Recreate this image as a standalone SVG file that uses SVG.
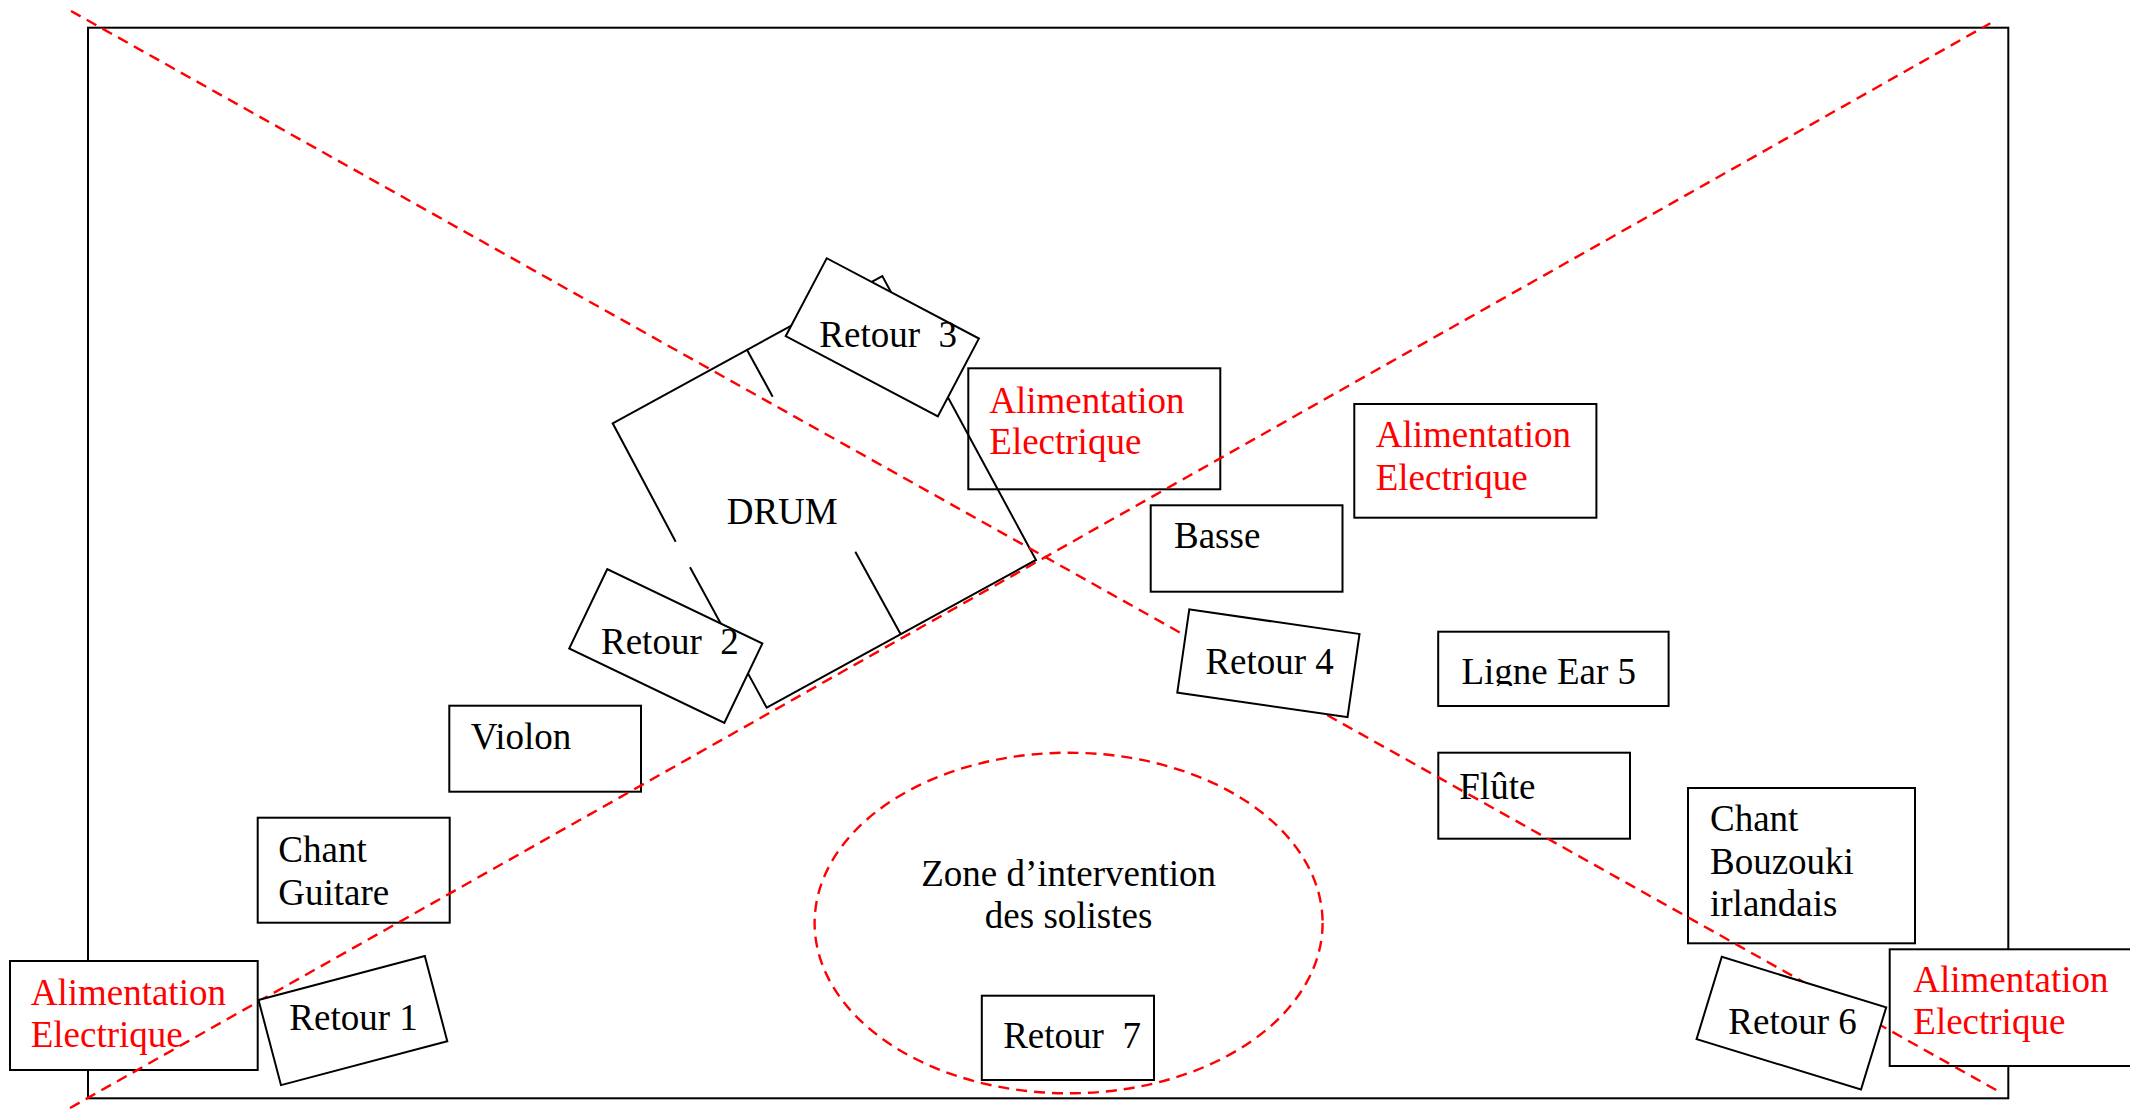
<svg xmlns="http://www.w3.org/2000/svg" width="2130" height="1109" viewBox="0 0 2130 1109">
<style>
.box{fill:#fff;stroke:#000;stroke-width:2}
.ln{fill:none;stroke:#000;stroke-width:2}
.red{fill:none;stroke:#ff0000;stroke-width:2.4;stroke-dasharray:11 7}
.t{font-family:"Liberation Serif","Times New Roman",serif;font-size:37px;fill:#000}
.r{font-family:"Liberation Serif","Times New Roman",serif;font-size:37px;fill:#ff0000}
</style>
<defs>
<clipPath id="clipEar"><rect x="1438" y="631" width="231" height="55"/></clipPath>
</defs>
<rect id="stage" x="88" y="27.7" width="1920.3" height="1070.6" fill="#fff" stroke="#000" stroke-width="2"/>

<g id="violon"><rect class="box" x="449.3" y="705.7" width="191.7" height="86"/><text class="t" x="470.7" y="749.3">Violon</text></g>
<g id="chant-guitare"><rect class="box" x="257.7" y="817.7" width="192" height="105"/><text class="t" x="278.3" y="861.7">Chant</text><text class="t" x="278.3" y="905">Guitare</text></g>
<g id="basse"><rect class="box" x="1150.7" y="505.3" width="191.8" height="86.4"/><text class="t" x="1174" y="548.3">Basse</text></g>
<g id="ligne-ear"><rect class="box" x="1438.2" y="631.7" width="230.4" height="74.3"/><text class="t" x="1461.4" y="684" clip-path="url(#clipEar)">Ligne Ear 5</text></g>
<g id="flute"><rect class="box" x="1438.3" y="752.7" width="191.7" height="86"/><text class="t" x="1459.3" y="799.3">Flûte</text></g>
<g id="chant-bouzouki"><rect class="box" x="1688" y="788" width="227" height="155.3"/><text class="t" x="1710" y="830.7">Chant</text><text class="t" x="1710" y="874">Bouzouki</text><text class="t" x="1710" y="916">irlandais</text></g>

<g id="alim-1"><rect class="box" x="10" y="961" width="247.7" height="109"/><text class="r" x="30.7" y="1005">Alimentation</text><text class="r" x="30.7" y="1046.7">Electrique</text></g>
<g id="alim-2"><rect class="box" x="968.3" y="368.3" width="252" height="121"/><text class="r" x="989.3" y="412.7">Alimentation</text><text class="r" x="989.3" y="454.3">Electrique</text></g>
<g id="alim-3"><rect class="box" x="1354.3" y="404" width="242.1" height="113.7"/><text class="r" x="1375.7" y="447.3">Alimentation</text><text class="r" x="1375.7" y="490">Electrique</text></g>
<g id="alim-4"><rect class="box" x="1889.7" y="949.3" width="250" height="116.7"/><text class="r" x="1913.3" y="991.7">Alimentation</text><text class="r" x="1913.3" y="1034.3">Electrique</text></g>

<g id="drum">
<path class="ln" d="M690,567.3 L766.7,707.7 L1036,560 L882.3,276 L612.7,423.3 L675.7,541.7"/>
<line class="ln" x1="746.7" y1="349.3" x2="772.7" y2="396.7"/>
<line class="ln" x1="855.3" y1="551.7" x2="900.7" y2="634.3"/>
<text class="t" x="726.7" y="524">DRUM</text>
</g>

<g id="zone-solistes">
<ellipse class="red" cx="1068.6" cy="923" rx="254" ry="170.3"/>
<text class="t" x="1068.6" y="886" text-anchor="middle">Zone d’intervention</text>
<text class="t" x="1068.6" y="928.3" text-anchor="middle">des solistes</text>
</g>

<g id="connectors">
<line class="red" x1="71" y1="11" x2="2002" y2="1093.3"/>
<line class="red" x1="70" y1="1108" x2="1990.3" y2="23.3"/>
</g>

<g id="retour-1"><rect class="box" x="-86" y="-44" width="172" height="88" transform="translate(352.9,1020.6) rotate(-14.8)"/><text class="t" x="289.3" y="1030">Retour 1</text></g>
<g id="retour-2"><rect class="box" x="-86" y="-44" width="172" height="88" transform="translate(665.8,646) rotate(25.6)"/><text class="t" x="601" y="654" xml:space="preserve">Retour  2</text></g>
<g id="retour-3"><rect class="box" x="-86" y="-44" width="172" height="88" transform="translate(882.3,337.3) rotate(27.8)"/><text class="t" x="819.3" y="346.7" xml:space="preserve">Retour  3</text></g>
<g id="retour-4"><rect class="box" x="-86" y="-42" width="172" height="84" transform="translate(1268.4,663.3) rotate(8.2)"/><text class="t" x="1205.4" y="674.3">Retour 4</text></g>
<g id="retour-6"><rect class="box" x="-86" y="-43" width="172" height="86" transform="translate(1791.4,1023.2) rotate(17.05)"/><text class="t" x="1728.3" y="1034">Retour 6</text></g>
<g id="retour-7"><rect class="box" x="981.8" y="995.7" width="172.2" height="84.3"/><text class="t" x="1003.2" y="1048.3" xml:space="preserve">Retour  7</text></g>
</svg>
